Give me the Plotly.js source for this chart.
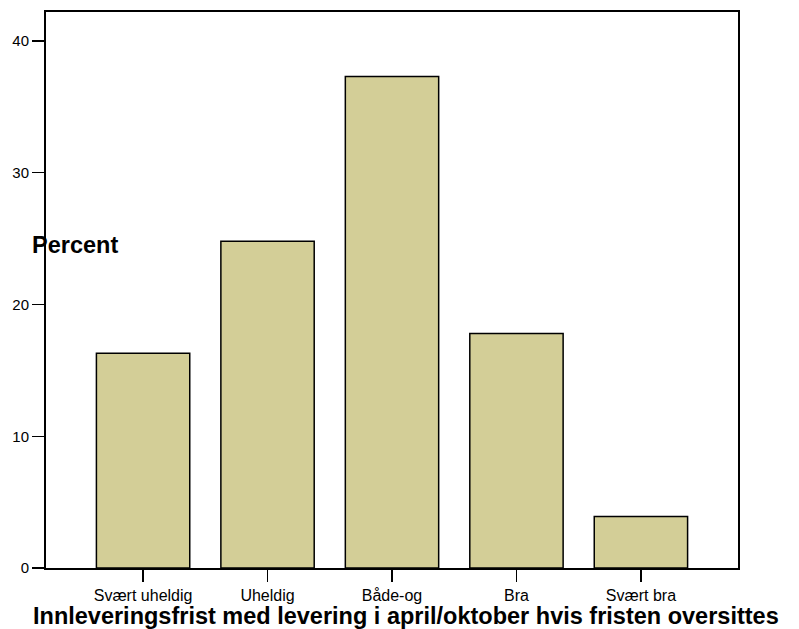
<!DOCTYPE html>
<html>
<head>
<meta charset="utf-8">
<script src="https://cdn.plot.ly/plotly-3.0.1.min.js"></script>
<style>html,body{margin:0;padding:0;background:#fff;}#chart{width:799px;height:629px;}</style>
</head>
<body>
<div id="chart"></div>
<script>
var categories = ["Svært uheldig", "Uheldig", "Både-og", "Bra", "Svært bra"];
var percentValues = [16.3, 24.8, 37.3, 17.8, 3.9];
var yTickValues = [0, 10, 20, 30, 40];
var xTitle = "Innleveringsfrist med levering i april/oktober hvis fristen oversittes";
var yTitle = "Percent";

var trace = {
  type: "bar",
  x: categories,
  y: percentValues,
  width: 0.75,
  marker: {color: "#D3CE97", line: {color: "#000000", width: 1.5}},
  hoverinfo: "x+y"
};

var layout = {
  width: 799,
  height: 629,
  margin: {l: 46, r: 61, t: 12, b: 61},
  paper_bgcolor: "#ffffff",
  plot_bgcolor: "#ffffff",
  showlegend: false,
  font: {family: "Liberation Sans, Arial, sans-serif", color: "#000000", size: 16},
  xaxis: {
    type: "category",
    range: [-0.78, 4.78],
    showline: true, linecolor: "#000000", linewidth: 2, mirror: true,
    ticks: "outside", ticklen: 12, tickwidth: 1.5, tickcolor: "#000000",
    tickfont: {size: 16},
    showgrid: false, zeroline: false
  },
  yaxis: {
    range: [0, 42.2],
    tickvals: yTickValues,
    showline: true, linecolor: "#000000", linewidth: 2, mirror: true,
    ticks: "outside", ticklen: 12, tickwidth: 1.5, tickcolor: "#000000",
    tickfont: {size: 15},
    showgrid: false, zeroline: false
  },
  annotations: [{
    text: "<b>" + yTitle + "</b>",
    xref: "paper", yref: "paper",
    x: -0.0231, y: 0.581, xanchor: "left", yanchor: "middle",
    showarrow: false, font: {size: 23.5, color: "#000000"}
  }, {
    text: "<b>" + xTitle + "</b>",
    xref: "paper", yref: "paper",
    x: 0.52, y: -0.0865, xanchor: "center", yanchor: "middle",
    showarrow: false, font: {size: 23.5, color: "#000000"}
  }]
};

Plotly.newPlot("chart", [trace], layout, {displayModeBar: false, staticPlot: true});
</script>
</body>
</html>
